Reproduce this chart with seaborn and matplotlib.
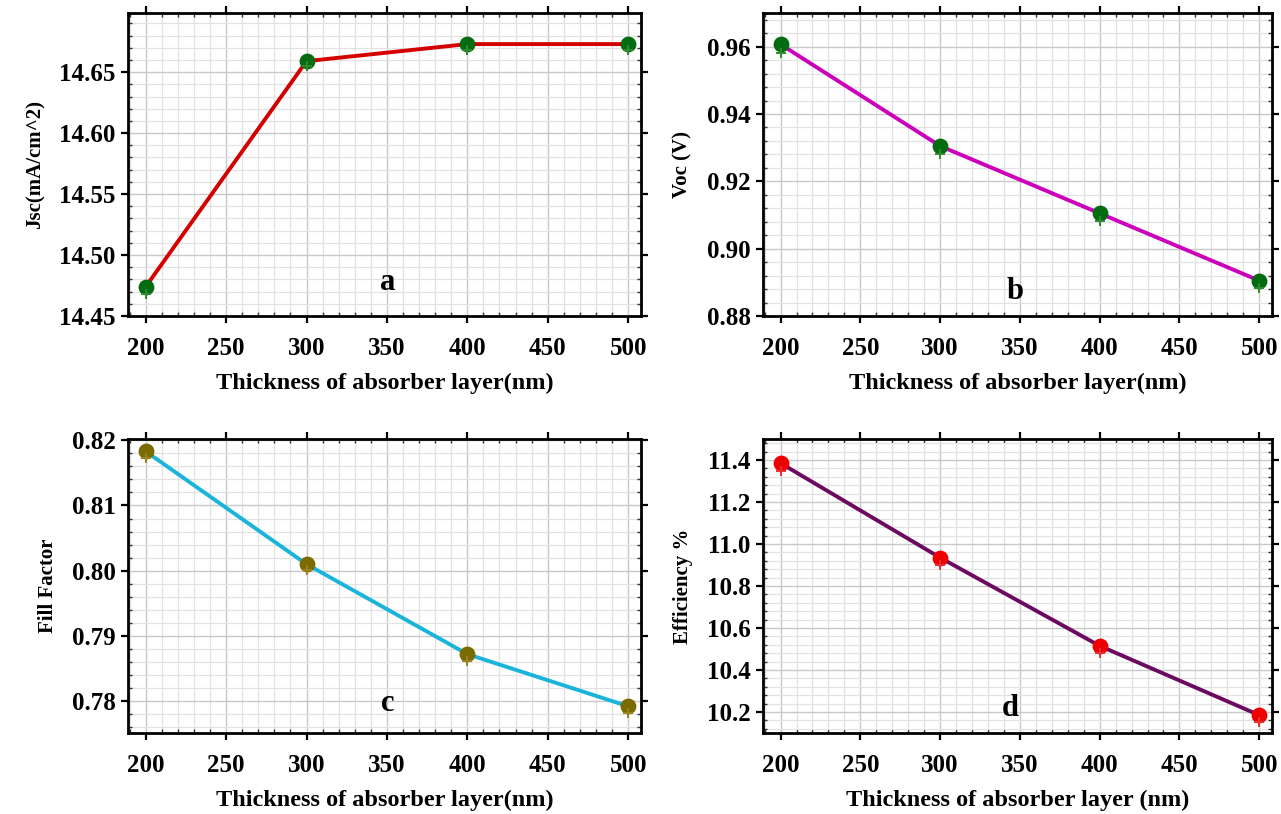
import matplotlib
matplotlib.use("Agg")
import matplotlib.pyplot as plt
import seaborn as sns
import pandas as pd
from matplotlib.ticker import MultipleLocator, FuncFormatter

thickness = [200, 300, 400, 500]
jsc = [14.474, 14.659, 14.673, 14.673]
jsc_sim = [14.468, 14.655, 14.668, 14.668]
voc = [0.9607, 0.9305, 0.9105, 0.8905]
voc_sim = [0.9582, 0.9282, 0.9082, 0.8882]
ff = [0.8183, 0.8010, 0.7872, 0.7792]
ff_sim = [0.8173, 0.8001, 0.7862, 0.7782]
eff = [11.385, 10.935, 10.515, 10.185]
eff_sim = [11.350, 10.900, 10.480, 10.150]

sns.set_theme(style="white")
plt.rcParams['font.family'] = ['Liberation Serif', 'DejaVu Serif']
plt.rcParams['font.weight'] = 'bold'
plt.rcParams['text.color'] = 'black'
plt.rcParams['axes.labelcolor'] = 'black'
plt.rcParams['xtick.color'] = 'black'
plt.rcParams['ytick.color'] = 'black'

fig = plt.figure(figsize=(12.81, 8.14), dpi=100)
W, H = 1281, 814

def make_ax(l, r, t, b):
    return fig.add_axes([l / W, 1 - b / H, (r - l) / W, (b - t) / H])

panels = [
    dict(box=(128, 641, 13, 316), y=jsc, ys=jsc_sim, line='#d40000', mk='#036b10', pk='#2e8b2e',
         ylim=(14.45, 14.6985), major=0.05, minor=0.01, fmt='{:.2f}',
         ylabel='Jsc(mA/cm^2)', xlabel='Thickness of absorber layer(nm)', letter='a', lpos=(0.507, 0.11)),
    dict(box=(763, 1272, 13, 316), y=voc, ys=voc_sim, line='#cc00bb', mk='#036b10', pk='#2e8b2e',
         ylim=(0.88, 0.97), major=0.02, minor=0.004, fmt='{:.2f}',
         ylabel='Voc (V)', xlabel='Thickness of absorber layer(nm)', letter='b', lpos=(0.495, 0.08)),
    dict(box=(128, 641, 439, 733), y=ff, ys=ff_sim, line='#1ab4da', mk='#7a6a00', pk='#9a8420',
         ylim=(0.7751, 0.8202), major=0.01, minor=0.002, fmt='{:.2f}',
         ylabel='Fill Factor', xlabel='Thickness of absorber layer(nm)', letter='c', lpos=(0.507, 0.10)),
    dict(box=(763, 1272, 439, 733), y=eff, ys=eff_sim, line='#6b0a5e', mk='#ee0000', pk='#e83030',
         ylim=(10.1, 11.5), major=0.2, minor=0.04, fmt='{:.1f}',
         ylabel='Efficiency %', xlabel='Thickness of absorber layer (nm)', letter='d', lpos=(0.485, 0.085)),
]

for p in panels:
    ax = make_ax(*p['box'])
    df = pd.DataFrame({'t': thickness, 'v': p['y'], 's': p['ys']})
    sns.lineplot(data=df, x='t', y='v', ax=ax, color=p['line'], linewidth=2.8, zorder=3)
    sns.scatterplot(data=df, x='t', y='v', ax=ax, color=p['mk'], s=130, edgecolor=p['mk'],
                    linewidth=0, zorder=4)
    sns.scatterplot(data=df, x='t', y='s', ax=ax, color=p['pk'], marker='+', s=45,
                    linewidth=1.4, zorder=4)
    ax.set_xlim(189, 508)
    ax.set_ylim(*p['ylim'])
    ax.xaxis.set_major_locator(MultipleLocator(50))
    ax.xaxis.set_minor_locator(MultipleLocator(10))
    ax.yaxis.set_major_locator(MultipleLocator(p['major']))
    ax.yaxis.set_minor_locator(MultipleLocator(p['minor']))
    ax.grid(which='major', color='#c8c8c8', linewidth=1.0, zorder=0)
    ax.grid(which='minor', color='#e2e2e2', linewidth=0.9, zorder=0)
    ax.set_axisbelow(True)
    ax.tick_params(which='major', direction='out', length=5, width=1.6, color='black',
                   labelcolor='black', top=True, right=True, bottom=True, left=True, labelsize=18)
    ax.tick_params(axis='x', which='major', pad=10)
    ax.tick_params(axis='y', which='major', pad=4)
    ax.tick_params(which='minor', direction='in', length=3, width=1.0, color='#333333',
                   top=True, right=True, bottom=True, left=True)
    ax.yaxis.set_major_formatter(FuncFormatter(lambda v, _, f=p['fmt']: f.format(v)))
    for lab in ax.get_xticklabels() + ax.get_yticklabels():
        lab.set_fontweight('bold')
    for s in ax.spines.values():
        s.set_visible(True)
        s.set_color('black')
        s.set_linewidth(2.0)
    ax.set_xlabel(p['xlabel'], fontsize=17.5, fontweight='bold', labelpad=9, color='black')
    ax.set_ylabel(p['ylabel'], fontsize=15, fontweight='bold', labelpad=10, color='black')
    ax.text(p['lpos'][0], p['lpos'][1], p['letter'], transform=ax.transAxes, fontsize=22,
            fontweight='bold', ha='center', va='center', color='black')

fig.savefig('out.png', dpi=100)
